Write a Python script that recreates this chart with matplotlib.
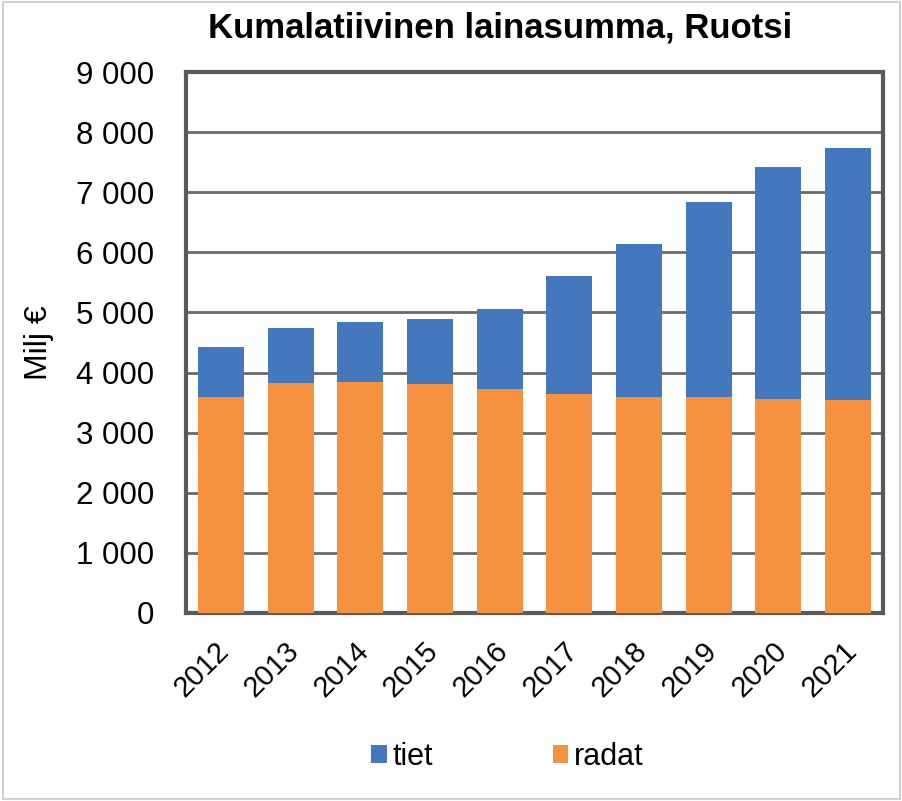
import numpy as np
import matplotlib.pyplot as plt
import matplotlib.transforms as mtransforms
from matplotlib.patches import Rectangle

years = ["2012", "2013", "2014", "2015", "2016", "2017", "2018", "2019", "2020", "2021"]
radat = [3600, 3820, 3850, 3810, 3720, 3650, 3600, 3590, 3560, 3545]
yhteensa = [4430, 4740, 4840, 4890, 5050, 5600, 6140, 6830, 7420, 7730]
tiet = [t - r for t, r in zip(yhteensa, radat)]

blue = "#4478BE"
orange = "#F5913F"

plt.rcParams['font.family'] = ['Liberation Sans', 'DejaVu Sans']

fig = plt.figure(figsize=(9.03, 8.01), dpi=100)
ax = fig.add_axes([186 / 903, 1 - 613 / 801, 697 / 903, 541 / 801])

x = np.arange(len(years))
ax.bar(x, radat, width=0.66, color=orange, label="radat", zorder=3)
ax.bar(x, tiet, width=0.66, bottom=radat, color=blue, label="tiet", zorder=3)

ax.set_xlim(-0.5, len(years) - 0.5)
ax.set_ylim(0, 9000)
ax.set_yticks(range(0, 9001, 1000))
ax.set_yticklabels([f"{v:,}".replace(",", " ") for v in range(0, 9001, 1000)], fontsize=22.5)
ax.set_xticks(x)
ax.set_xticklabels(years, rotation=45, ha="right", va="center", rotation_mode="anchor", fontsize=21)
ax.tick_params(axis="y", length=0, pad=23)
ax.tick_params(axis="x", length=0, pad=24)
offset = mtransforms.ScaledTranslation(4 / 100, 0, fig.dpi_scale_trans)
for lab in ax.get_xticklabels():
    lab.set_transform(lab.get_transform() + offset)
ax.grid(axis="y", color="#6a6a6a", linewidth=2, zorder=1)
for s in ax.spines.values():
    s.set_color("#5a5a5a")
    s.set_linewidth(3)

ax.set_ylabel("Milj €", fontsize=23)
ax.yaxis.set_label_coords(-0.19, 0.5)
fig.text(0.554, 0.965, "Kumalatiivinen lainasumma, Ruotsi", ha="center", va="center",
         fontsize=25, fontweight="bold")

handles, labels = ax.get_legend_handles_labels()
fig.legend(handles[::-1], labels[::-1], loc="center", bbox_to_anchor=(0.562, 0.055), ncol=2,
           frameon=False, fontsize=22, handlelength=0.5, handleheight=0.5,
           handletextpad=0.2, columnspacing=3.9)

fig.patches.append(Rectangle((0.003, 0.003), 0.994, 0.994, transform=fig.transFigure,
                             fill=False, edgecolor="#d0d0d0", linewidth=1.5))

fig.savefig("out.png", dpi=100)
